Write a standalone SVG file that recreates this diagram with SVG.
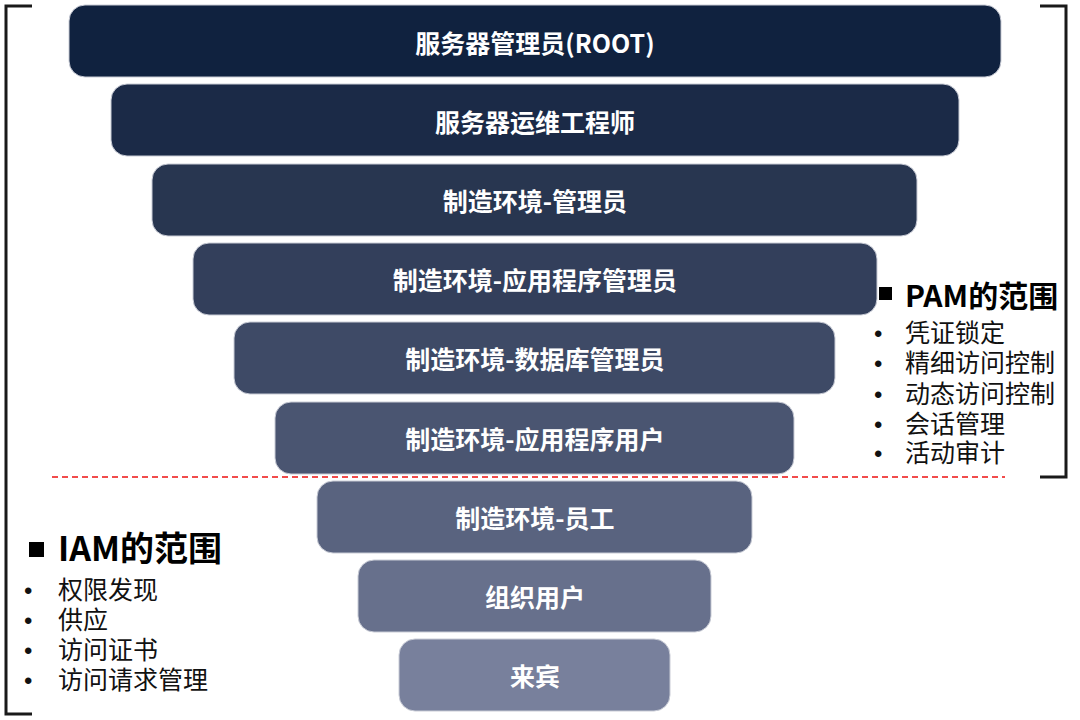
<svg xmlns="http://www.w3.org/2000/svg" width="1080" height="720" viewBox="0 0 1080 720">
<style>
.bar{stroke:#c9ccd6;stroke-width:1}
.bt{font-family:"Noto Sans CJK SC","Liberation Sans",sans-serif;font-weight:bold;font-size:25px;fill:#ffffff;text-anchor:middle}
.ttl{font-family:"Noto Sans CJK SC","Liberation Sans",sans-serif;font-weight:bold;fill:#000000}
.it{font-family:"Noto Sans CJK SC","Liberation Sans",sans-serif;font-size:25px;fill:#111111}
.dot{font-family:"Liberation Sans",sans-serif;font-size:24px;fill:#111111}
.br{fill:none;stroke:#1a1a1a;stroke-width:3}
</style>
<rect width="1080" height="720" fill="#ffffff"/>
<g id="brackets">
<path class="br" d="M32,6 H6 V714 H32"/>
<path class="br" d="M1040,6 H1066 V477 H1040"/>
</g>
<g id="connectors">
<line x1="52" y1="477" x2="1005" y2="477" stroke="#ee1111" stroke-width="1.6" stroke-dasharray="6,4"/>
</g>
<g id="n1"><rect class="bar" x="69" y="5" width="932" height="72" rx="16" fill="#10223f"/><text class="bt" x="535" y="53">服务器管理员(ROOT)</text></g>
<g id="n2"><rect class="bar" x="111" y="84" width="848" height="72" rx="16" fill="#1b2a47"/><text class="bt" x="535" y="132">服务器运维工程师</text></g>
<g id="n3"><rect class="bar" x="152" y="164" width="765" height="72" rx="16" fill="#283650"/><text class="bt" x="535" y="211">制造环境-管理员</text></g>
<g id="n4"><rect class="bar" x="193" y="243" width="684" height="72" rx="16" fill="#333f5b"/><text class="bt" x="535" y="290">制造环境-应用程序管理员</text></g>
<g id="n5"><rect class="bar" x="234" y="322" width="601" height="72" rx="16" fill="#3e4a66"/><text class="bt" x="535" y="369">制造环境-数据库管理员</text></g>
<g id="n6"><rect class="bar" x="275" y="402" width="519" height="72" rx="16" fill="#4a5571"/><text class="bt" x="535" y="449">制造环境-应用程序用户</text></g>
<g id="n7"><rect class="bar" x="317" y="481" width="435" height="72" rx="16" fill="#59637f"/><text class="bt" x="535" y="528">制造环境-员工</text></g>
<g id="n8"><rect class="bar" x="358" y="560" width="353" height="72" rx="16" fill="#67708c"/><text class="bt" x="535" y="607">组织用户</text></g>
<g id="n9"><rect class="bar" x="399" y="639" width="271" height="72" rx="16" fill="#78809c"/><text class="bt" x="535" y="686">来宾</text></g>
<g id="pam">
<rect x="879" y="287" width="13" height="13" fill="#000000"/>
<text class="ttl" x="905" y="307" font-size="30">PAM的范围</text>
<text class="dot" x="874" y="342">•</text><text class="it" x="905" y="342">凭证锁定</text>
<text class="dot" x="874" y="372">•</text><text class="it" x="905" y="372">精细访问控制</text>
<text class="dot" x="874" y="403">•</text><text class="it" x="905" y="403">动态访问控制</text>
<text class="dot" x="874" y="433">•</text><text class="it" x="905" y="433">会话管理</text>
<text class="dot" x="874" y="462">•</text><text class="it" x="905" y="462">活动审计</text>
</g>
<g id="iam">
<rect x="29" y="542" width="15" height="15" fill="#000000"/>
<text class="ttl" x="58" y="561" font-size="34">IAM的范围</text>
<text class="dot" x="24" y="599">•</text><text class="it" x="58" y="599">权限发现</text>
<text class="dot" x="24" y="629">•</text><text class="it" x="58" y="629">供应</text>
<text class="dot" x="24" y="659">•</text><text class="it" x="58" y="659">访问证书</text>
<text class="dot" x="24" y="689">•</text><text class="it" x="58" y="689">访问请求管理</text>
</g>
</svg>
